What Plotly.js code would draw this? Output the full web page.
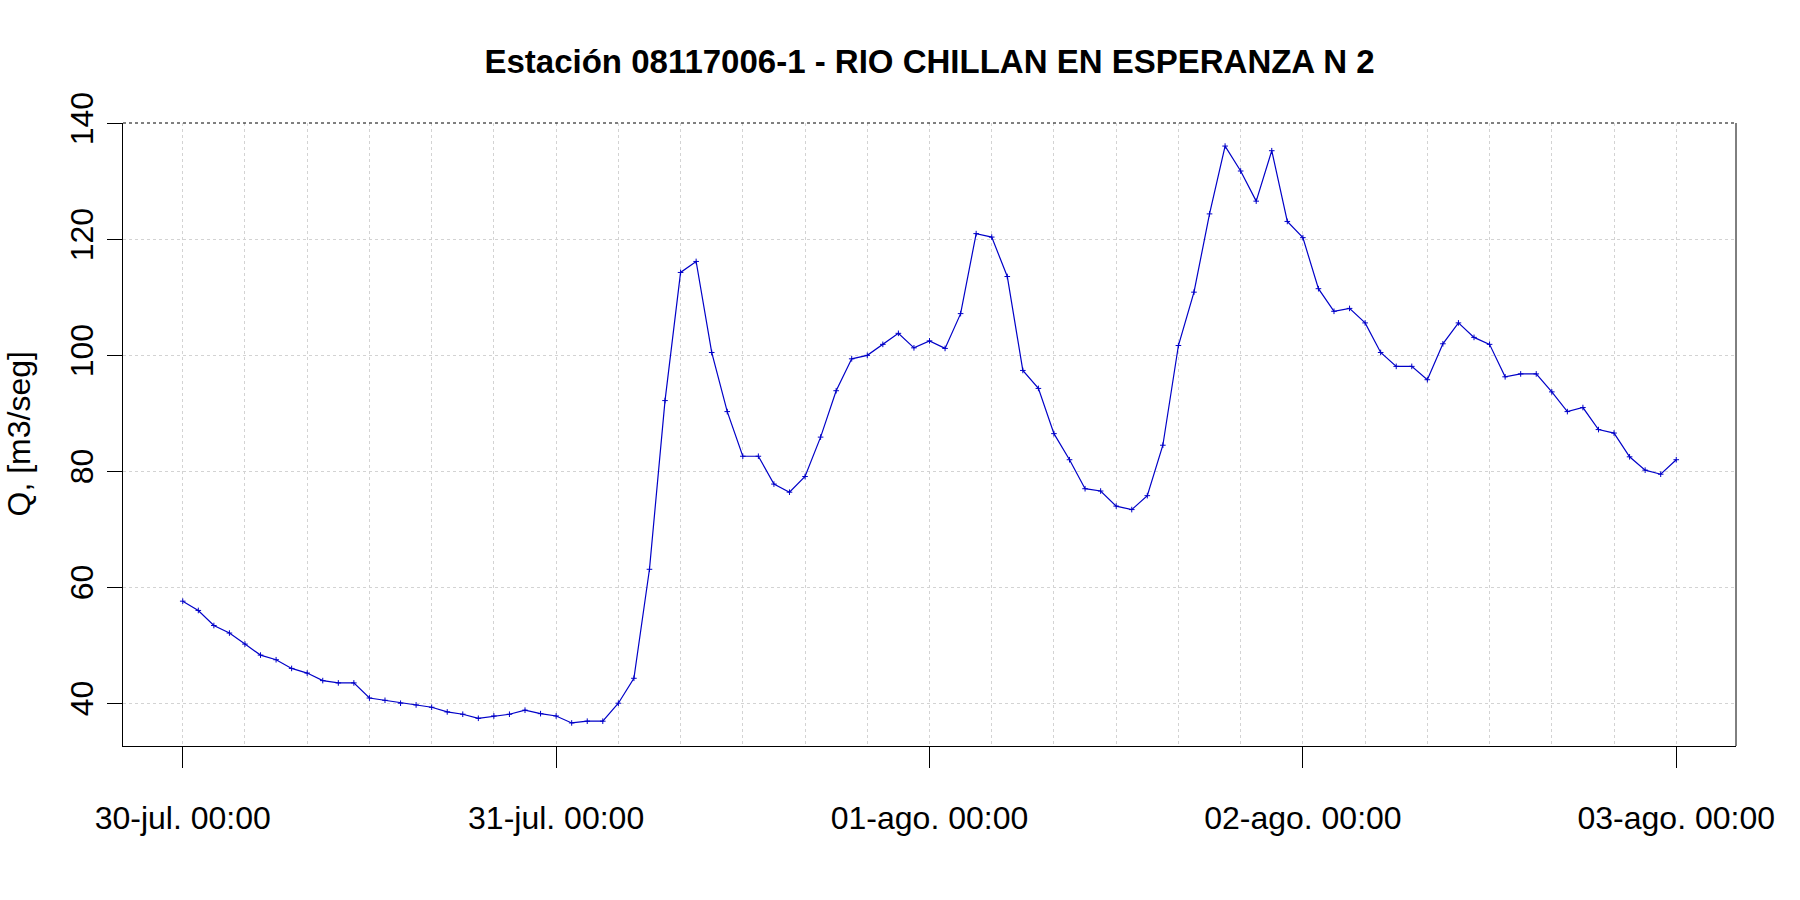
<!DOCTYPE html>
<html>
<head>
<meta charset="utf-8">
<script src="https://cdn.plot.ly/plotly-3.0.1.min.js"></script>
<style>
  html, body { margin: 0; padding: 0; background: #fff; }
  #grafico { width: 1800px; height: 900px; }
</style>
</head>
<body>
<div id="grafico"></div>
<script>
// caudal horario (m3/seg): 30-jul 00:00 .. 03-ago 00:00
const inicio = Date.UTC(2019, 6, 30, 0, 0, 0);
const caudal = [
  57.6, 56.0, 53.4, 52.1, 50.2, 48.3, 47.5, 46.0, 45.2, 43.9, 43.5, 43.5, 40.9,
  40.5, 40.0, 39.7, 39.3, 38.5, 38.1, 37.4, 37.8, 38.1, 38.8, 38.2, 37.8,
  36.6, 36.9, 36.9, 40.0, 44.3, 63.1, 92.2, 114.3, 116.2, 100.5, 90.3, 82.6,
  82.6, 77.8, 76.4, 79.1, 85.9, 93.9, 99.4, 100.0, 101.9, 103.8, 101.3, 102.5,
  101.2, 107.2, 121.0, 120.4, 113.6, 97.4, 94.3, 86.5, 82.0, 77.0, 76.6, 74.0,
  73.4, 75.8, 84.5, 101.7, 110.9, 124.4, 136.1, 131.8, 126.6, 135.3, 123.1, 120.3,
  111.5, 107.6, 108.1, 105.6, 100.5, 98.1, 98.1, 95.8, 102.0, 105.6, 103.1, 101.9,
  96.3, 96.8, 96.8, 93.7, 90.3, 91.0, 87.2, 86.6, 82.5, 80.2, 79.5, 82.0
];
const tickFechas = ['2019-07-30', '2019-07-31', '2019-08-01', '2019-08-02', '2019-08-03'];
const tickTextos = ['30-jul. 00:00', '31-jul. 00:00', '01-ago. 00:00', '02-ago. 00:00', '03-ago. 00:00'];
const yTicks = [40, 60, 80, 100, 120, 140];

const HORA = 3600 * 1000;
const fmt = ms => new Date(ms).toISOString().slice(0, 19).replace('T', ' ');
const tiempos = caudal.map((_, i) => fmt(inicio + i * HORA));

// rango como R: 4% extra a cada lado
const pad = 0.04 * (caudal.length - 1) * HORA;
const xRange = [fmt(inicio - pad), fmt(inicio + (caudal.length - 1) * HORA + pad)];
const yMin = Math.min(...caudal), yMax = Math.max(...caudal);
const yPad = 0.04 * (yMax - yMin);

const fuente = 'Liberation Sans, Arial, sans-serif';
const gris = '#d3d3d3';
const azul = '#0000c8';

const traza = {
  x: tiempos, y: caudal, type: 'scatter', mode: 'lines+markers',
  line: { color: azul, width: 1.2 },
  marker: { symbol: 'cross-thin', size: 4, line: { color: azul, width: 1 } },
  hoverinfo: 'x+y'
};

const layout = {
  width: 1800, height: 900,
  paper_bgcolor: '#fff', plot_bgcolor: '#fff',
  margin: { l: 123, r: 64, t: 123, b: 154 },
  showlegend: false,
  font: { family: fuente, size: 32, color: '#000' },
  title: {
    text: '<b>Estación 08117006-1 - RIO CHILLAN EN ESPERANZA N 2</b>',
    font: { family: fuente, size: 33, color: '#000' },
    x: 0.5, xref: 'paper', y: 1 - 61 / 900, yref: 'container', yanchor: 'middle'
  },
  xaxis: {
    type: 'date', range: xRange, automargin: false,
    tickmode: 'array', tickvals: tickFechas, ticktext: tickTextos,
    ticks: 'outside', ticklen: 21, tickcolor: '#000', tickwidth: 1,
    ticklabelstandoff: 23,
    showline: true, linecolor: '#000', linewidth: 1,
    showgrid: true, gridcolor: gris, griddash: 'dot', gridwidth: 1,
    zeroline: false,
    minor: { tickmode: 'linear', tick0: tickFechas[0], dtick: 4 * HORA,
             showgrid: true, gridcolor: gris, griddash: 'dot', gridwidth: 1, ticklen: 0 }
  },
  yaxis: {
    range: [yMin - yPad, yMax + yPad], automargin: false,
    tickmode: 'array', tickvals: yTicks, ticktext: yTicks.map(String),
    tickangle: -90,
    ticks: 'outside', ticklen: 15, tickcolor: '#000', tickwidth: 1,
    ticklabelstandoff: 1,
    showline: true, linecolor: '#000', linewidth: 1,
    showgrid: true, gridcolor: gris, griddash: 'dot', gridwidth: 1,
    zeroline: false
  },
  shapes: [
    { type: 'line', xref: 'paper', yref: 'paper', x0: 1, x1: 1, y0: 0, y1: 1,
      line: { color: '#000', width: 1 } },
    { type: 'line', xref: 'paper', yref: 'paper', x0: 0, x1: 1, y0: 1, y1: 1,
      line: { color: '#000', width: 1, dash: 'dot' } }
  ],
  annotations: [
    { text: 'Q, [m3/seg]', textangle: -90, showarrow: false,
      xref: 'paper', yref: 'paper', x: (18 - 123) / 1613, y: 0.5,
      xanchor: 'center', yanchor: 'middle',
      font: { family: fuente, size: 32, color: '#000' } }
  ]
};

Plotly.newPlot('grafico', [traza], layout, { displayModeBar: false, staticPlot: true });
</script>
</body>
</html>
